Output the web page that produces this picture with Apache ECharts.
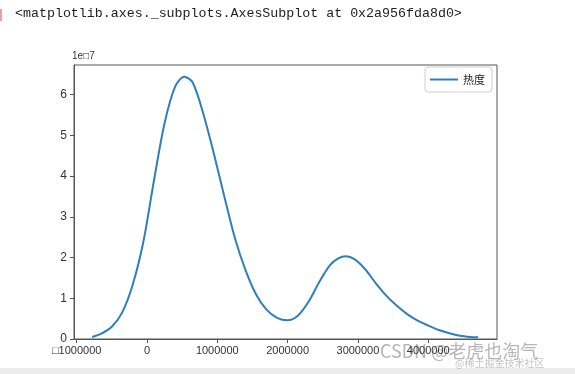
<!DOCTYPE html>
<html>
<head>
<meta charset="utf-8">
<script src="https://cdn.jsdelivr.net/npm/echarts@6/dist/echarts.min.js"></script>
<style>
html,body{margin:0;padding:0;background:#fff;}
#c{width:575px;height:374px;}
</style>
</head>
<body>
<div id="c"></div>
<script>
// Data (x in raw units, y in units of 1e7)
const xs = [-780000,-650000,-500000,-350000,-200000,-50000,100000,250000,400000,530000,650000,800000,950000,1100000,1250000,1400000,1550000,1700000,1850000,2000000,2150000,2300000,2450000,2600000,2720000,2830000,2950000,3100000,3250000,3400000,3550000,3700000,3850000,4000000,4150000,4300000,4450000,4600000,4710000];
const ys = [0.05,0.13,0.30,0.66,1.35,2.40,3.90,5.30,6.20,6.44,6.30,5.54,4.56,3.50,2.48,1.70,1.10,0.72,0.52,0.46,0.58,0.92,1.40,1.81,1.98,2.03,1.96,1.72,1.38,1.07,0.82,0.61,0.45,0.33,0.22,0.14,0.08,0.05,0.04];
const xTickValues = [-1000000,0,1000000,2000000,3000000,4000000];
const xTickLabels = ["\u25A11000000","0","1000000","2000000","3000000","4000000"];
const yTickValues = [0,1,2,3,4,5,6];
const seriesName = "热度";
const headerText = "<matplotlib.axes._subplots.AxesSubplot at 0x2a956fda8d0>";
const offsetText = "1e\u25A17";

const chart = echarts.init(document.getElementById('c'));
const data = xs.map((x,i)=>[x, ys[i]]);
chart.setOption({
  animation:false,
  backgroundColor:'#fff',
  grid:{left:74,right:78,top:65,bottom:35,show:true,borderColor:'#555',borderWidth:1,backgroundColor:'transparent'},
  legend:{
    data:[seriesName], right:83, top:67, orient:'horizontal',
    icon:'rect', itemWidth:28, itemHeight:2, itemGap:6,
    borderColor:'#d0d0d0', borderWidth:1, borderRadius:3, padding:[7,7,7,5],
    textStyle:{fontFamily:'Noto Sans CJK SC', fontSize:11, color:'#222'}
  },
  xAxis:{
    type:'value', min:-1038000, max:4978000,
    axisLine:{show:true,onZero:false,lineStyle:{color:'#555'}},
    splitLine:{show:false},
    axisTick:{show:true,length:4,inside:false,customValues:xTickValues,lineStyle:{color:'#555'}},
    axisLabel:{customValues:xTickValues,color:'#333',fontFamily:'Liberation Sans',fontSize:11,margin:6,
      formatter:v=>{const i=xTickValues.indexOf(v);return i>=0?xTickLabels[i]:'';}}
  },
  yAxis:{
    type:'value', min:0, max:6.73,
    axisLine:{show:true,onZero:false,lineStyle:{color:'#555'}},
    splitLine:{show:false},
    axisTick:{show:true,length:4,inside:false,customValues:yTickValues,lineStyle:{color:'#555'}},
    axisLabel:{customValues:yTickValues,color:'#333',fontFamily:'Liberation Sans',fontSize:12,margin:7,
      formatter:v=>String(v)}
  },
  series:[{
    name:seriesName, type:'line', data:data, smooth:0.3, symbol:'none', showSymbol:false,
    lineStyle:{color:'#2f7fbf',width:2}, itemStyle:{color:'#2f7fbf'}
  }],
  graphic:[
    {type:'text',left:15,top:7,style:{text:headerText,fontFamily:'Liberation Mono',fontSize:13.3,fill:'#222'}},
    {type:'rect',left:0,top:9,shape:{width:2,height:12},style:{fill:'#e8a0a0'}},
    {type:'text',left:72,top:51,style:{text:offsetText,fontFamily:'Liberation Sans',fontSize:10,fill:'#333'}},
    {type:'rect',left:0,top:368,shape:{width:575,height:6},style:{fill:'#ececec'}},
    {type:'text',left:380,top:342,style:{text:'CSDN @老虎也淘气',fontFamily:'Noto Sans CJK SC',fontSize:18,fill:'rgba(120,120,120,0.55)'}},
    {type:'text',left:455,top:358,style:{text:'@稀土掘金技术社区',fontFamily:'Noto Sans CJK SC',fontSize:10,fill:'rgba(140,140,140,0.5)'}}
  ]
});
</script>
</body>
</html>
